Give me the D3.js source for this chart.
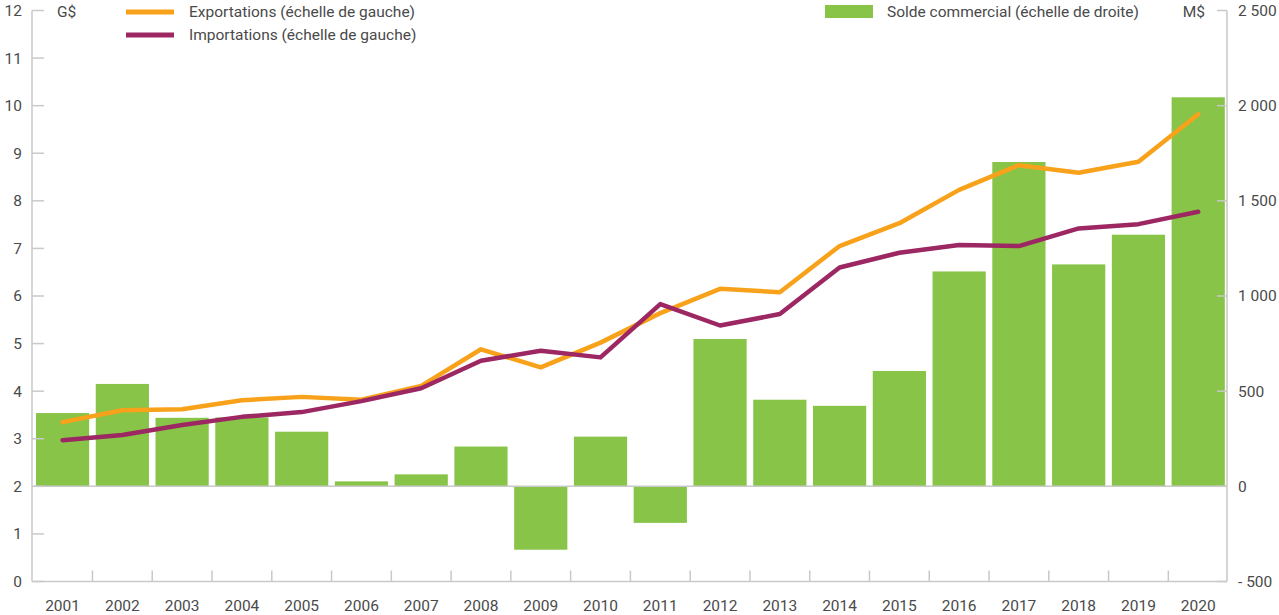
<!DOCTYPE html>
<html>
<head>
<meta charset="utf-8">
<script src="https://cdn.jsdelivr.net/npm/d3@7/dist/d3.min.js"></script>
<style>
  body { margin: 0; background: #fff; }
  svg { display: block; font-family: Roboto, "Liberation Sans", sans-serif; }
  .lbl { fill: #4a4a4a; font-size: 15.5px; }
</style>
</head>
<body>
<svg id="chart" width="1279" height="615"></svg>
<script>
const years = ['2001','2002','2003','2004','2005','2006','2007','2008','2009','2010',
  '2011','2012','2013','2014','2015','2016','2017','2018','2019','2020'];
// G$ (left scale)
const exportations = [3.35, 3.60, 3.62, 3.81, 3.88, 3.82, 4.11, 4.88, 4.50, 5.02,
  5.64, 6.15, 6.08, 7.05, 7.53, 8.23, 8.75, 8.59, 8.82, 9.82];
const importations = [2.97, 3.08, 3.29, 3.46, 3.56, 3.79, 4.06, 4.64, 4.85, 4.71,
  5.83, 5.38, 5.62, 6.60, 6.91, 7.07, 7.05, 7.42, 7.51, 7.77];
// M$ (right scale)
const solde = [385, 538, 360, 362, 287, 26, 63, 209, -333, 261,
  -192, 774, 455, 423, 606, 1129, 1704, 1166, 1322, 2044];
const leftTicks = d3.range(0, 13);
const rightTicks = [-500, 0, 500, 1000, 1500, 2000, 2500];

const colors = { exp: '#f8a21c', imp: '#9c2762', bar: '#87c447', axis: '#c9c9c9', text: '#4a4a4a' };

const svg = d3.select('#chart');
const plotL = 32, plotR = 1227, plotT = 10.5, plotB = 581.5;

const x = d3.scaleBand().domain(years).range([32.7, 1228.1]).paddingInner(0.11).paddingOuter(0.055);
const yL = d3.scaleLinear().domain([0, 12]).range([plotB, plotT]);
const yR = d3.scaleLinear().domain([-500, 2500]).range([plotB, plotT]);

// bars
svg.append('g').selectAll('rect')
  .data(solde)
  .join('rect')
  .attr('x', (d, i) => x(years[i]))
  .attr('width', x.bandwidth())
  .attr('y', d => yR(Math.max(0, d)))
  .attr('height', d => Math.abs(yR(d) - yR(0)))
  .attr('fill', colors.bar);

// zero line of the right scale
svg.append('line')
  .attr('x1', plotL).attr('x2', plotR)
  .attr('y1', yR(0)).attr('y2', yR(0))
  .attr('stroke', colors.axis).attr('stroke-width', 1.5);

// left axis
const gL = svg.append('g');
gL.append('line').attr('x1', plotL).attr('x2', plotL).attr('y1', plotT).attr('y2', plotB)
  .attr('stroke', colors.axis).attr('stroke-width', 1.5);
gL.selectAll('line.t').data(leftTicks).join('line').attr('class', 't')
  .attr('x1', plotL).attr('x2', plotL + 12)
  .attr('y1', d => yL(d)).attr('y2', d => yL(d))
  .attr('stroke', colors.axis).attr('stroke-width', 1.5);
gL.selectAll('text').data(leftTicks).join('text').attr('class', 'lbl')
  .attr('x', 22).attr('y', d => yL(d)).attr('dy', '0.35em')
  .attr('text-anchor', 'end').text(d => d);

// right axis
const fmt = d => d < 0 ? '- ' + d3.format(',')(-d).replace(/,/g, ' ') : d3.format(',')(d).replace(/,/g, ' ');
const gR = svg.append('g');
gR.append('line').attr('x1', plotR).attr('x2', plotR).attr('y1', plotT).attr('y2', plotB)
  .attr('stroke', colors.axis).attr('stroke-width', 1.5);
gR.selectAll('line.t').data(rightTicks).join('line').attr('class', 't')
  .attr('x1', plotR - 10).attr('x2', plotR)
  .attr('y1', d => yR(d)).attr('y2', d => yR(d))
  .attr('stroke', colors.axis).attr('stroke-width', 1.5);
gR.selectAll('text').data(rightTicks).join('text').attr('class', 'lbl')
  .attr('x', 1238).attr('y', d => yR(d)).attr('dy', '0.35em')
  .text(fmt);

// bottom axis
const gB = svg.append('g');
gB.append('line').attr('x1', plotL).attr('x2', plotR).attr('y1', plotB).attr('y2', plotB)
  .attr('stroke', colors.axis).attr('stroke-width', 1.5);
gB.selectAll('line.t').data(years.slice(1)).join('line').attr('class', 't')
  .attr('x1', d => x(d) - x.step() * x.paddingInner() / 2)
  .attr('x2', d => x(d) - x.step() * x.paddingInner() / 2)
  .attr('y1', plotB - 11).attr('y2', plotB)
  .attr('stroke', colors.axis).attr('stroke-width', 1.5);
gB.selectAll('text').data(years).join('text').attr('class', 'lbl')
  .attr('x', d => x(d) + x.bandwidth() / 2).attr('y', 606).attr('dy', '0.35em')
  .attr('text-anchor', 'middle').text(d => d);

// lines
const line = d3.line().x((d, i) => x(years[i]) + x.bandwidth() / 2).y(d => yL(d));
[[exportations, colors.exp], [importations, colors.imp]].forEach(([data, c]) => {
  svg.append('path').datum(data).attr('d', line)
    .attr('fill', 'none').attr('stroke', c).attr('stroke-width', 4.5)
    .attr('stroke-linecap', 'round').attr('stroke-linejoin', 'round');
});

// units
svg.append('text').attr('class', 'lbl').attr('x', 57).attr('y', 12).attr('dy', '0.35em').text('G$');
svg.append('text').attr('class', 'lbl').attr('x', 1205).attr('y', 12).attr('dy', '0.35em')
  .attr('text-anchor', 'end').text('M$');

// legend
const leg = svg.append('g');
[['Exportations (échelle de gauche)', colors.exp, 12], ['Importations (échelle de gauche)', colors.imp, 35]]
  .forEach(([t, c, yy]) => {
    leg.append('line').attr('x1', 126).attr('x2', 174).attr('y1', yy).attr('y2', yy)
      .attr('stroke', c).attr('stroke-width', 5);
    leg.append('text').attr('class', 'lbl').attr('x', 189).attr('y', yy).attr('dy', '0.35em').text(t);
  });
leg.append('rect').attr('x', 825).attr('y', 5).attr('width', 48).attr('height', 13).attr('fill', colors.bar);
leg.append('text').attr('class', 'lbl').attr('x', 887).attr('y', 12).attr('dy', '0.35em')
  .text('Solde commercial (échelle de droite)');
</script>
</body>
</html>
